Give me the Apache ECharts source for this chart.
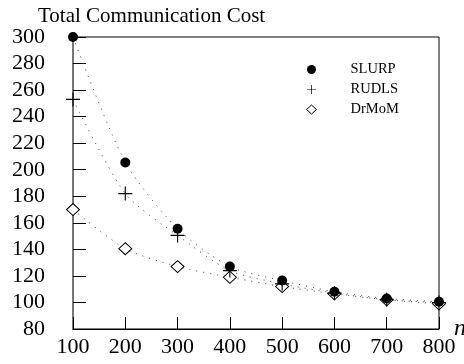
<!DOCTYPE html>
<html>
<head>
<meta charset="utf-8">
<script src="https://cdn.jsdelivr.net/npm/echarts@6/dist/echarts.min.js"></script>
<style>
html,body{margin:0;padding:0;background:#fff;}
#chart{width:464px;height:364px;}
</style>
</head>
<body>
<div id="chart"></div>
<script>
var xValues = [100, 200, 300, 400, 500, 600, 700, 800];
var slurp = [300, 205.5, 155.5, 127, 116.5, 108, 103, 100.5];
var rudls = [253, 182, 150.5, 124, 114, 107, 102, 100];
var drmom = [170, 140.5, 127, 119, 112, 106.5, 102, 99];
var seriesNames = ['SLURP', 'RUDLS', 'DrMoM'];
var titleText = 'Total Communication Cost';
var xName = 'n';

var FONT = '"Liberation Serif", "DejaVu Serif", serif';
var plusPath = 'path://M0,4.6H10V5.4H0Z M4.6,0H5.4V10H4.6Z';

function pairs(vals) {
  return xValues.map(function (x, i) { return [x, vals[i]]; });
}

var chart = echarts.init(document.getElementById('chart'), null, {renderer: 'canvas'});
var lineStyle = {color: '#444', width: 1, type: [1, 6]};

chart.setOption({
  animation: false,
  backgroundColor: '#fff',
  title: {
    text: titleText,
    left: 33, top: 1,
    textStyle: {fontFamily: FONT, fontWeight: 'normal', fontSize: 21, color: '#000'}
  },
  grid: {left: 73, right: 25, top: 37, bottom: 35, show: true, borderColor: '#000', borderWidth: 1,
         containLabel: false, outerBoundsMode: 'none'},
  legend: {
    orient: 'vertical',
    left: 301, top: 57,
    itemWidth: 10, itemHeight: 9, itemGap: 5,
    textStyle: {fontFamily: FONT, fontSize: 14.5, color: '#000', lineHeight: 15, padding: [0, 0, 0, 29]},
    data: [
      {name: 'SLURP', icon: 'circle', itemStyle: {color: '#000', borderWidth: 0}},
      {name: 'RUDLS', icon: plusPath, itemStyle: {color: '#000', borderWidth: 0}},
      {name: 'DrMoM', icon: 'diamond', itemStyle: {color: '#fff', borderColor: '#000', borderWidth: 1}}
    ]
  },
  xAxis: {
    type: 'value', min: 100, max: 800, interval: 100,
    name: xName, nameLocation: 'end', nameGap: 15, nameMoveOverlap: false,
    nameTextStyle: {fontFamily: FONT, fontStyle: 'italic', fontSize: 24, color: '#000', verticalAlign: 'middle', align: 'left'},
    axisLine: {show: true, lineStyle: {color: '#000', width: 1}},
    axisTick: {show: true, inside: true, length: 12, lineStyle: {color: '#000', width: 1}},
    axisLabel: {fontFamily: FONT, fontSize: 22, color: '#000', margin: 7},
    splitLine: {show: false}
  },
  yAxis: {
    type: 'value', min: 80, max: 300, interval: 20,
    axisLine: {show: true, lineStyle: {color: '#777', width: 2}},
    axisTick: {show: true, inside: true, length: 13, lineStyle: {color: '#000', width: 1}},
    axisLabel: {fontFamily: FONT, fontSize: 22, color: '#000', margin: 28},
    splitLine: {show: false}
  },
  series: [
    {
      name: 'DrMoM', type: 'line', data: pairs(drmom), smooth: 0.25, clip: false, z: 3,
      symbol: 'diamond', symbolSize: [13, 12],
      itemStyle: {color: '#fff', borderColor: '#000', borderWidth: 1},
      lineStyle: lineStyle
    },
    {
      name: 'RUDLS', type: 'line', data: pairs(rudls), smooth: 0.25, clip: false, z: 4,
      symbol: plusPath, symbolSize: 14,
      itemStyle: {color: '#000', borderWidth: 0},
      lineStyle: lineStyle
    },
    {
      name: 'SLURP', type: 'line', data: pairs(slurp), smooth: 0.25, clip: false, z: 5,
      symbol: 'circle', symbolSize: 10,
      itemStyle: {color: '#000', borderWidth: 0},
      lineStyle: lineStyle
    }
  ]
});
</script>
</body>
</html>
